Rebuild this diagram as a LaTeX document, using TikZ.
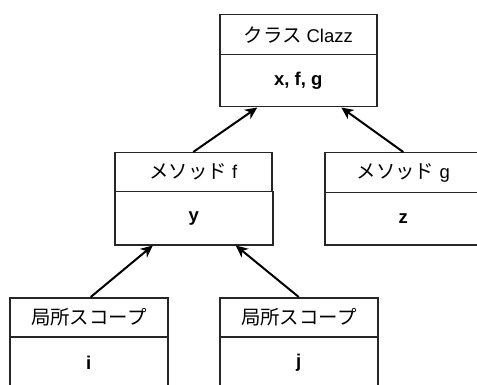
\documentclass[tikz,border=0pt]{standalone}
\usepackage{fontspec}
\setmainfont{Liberation Sans}
\newfontfamily\jp[Scale=1.05]{Noto Sans CJK JP}
\usetikzlibrary{arrows.meta}
\begin{document}
\begin{tikzpicture}[x=1pt,y=-1pt,
  box/.style={draw=black!85,line width=1.5pt,fill=white,minimum width=157pt,inner sep=0pt,anchor=north west,font=\fontsize{18.5}{20}\selectfont},
  hdr/.style={box,minimum height=40pt},
  bdy/.style={box,minimum height=52pt,font=\fontsize{18.5}{20}\selectfont\bfseries},
  arr/.style={line width=2pt,-{Stealth[length=12pt,width=11pt,inset=3.5pt]}}]
\useasboundingbox (0,0) rectangle (477,385);
% class
\node[hdr] (ch) at (219,14) {{\jp クラス} Clazz};
\node[bdy] (cb) at (219,54) {x, f, g};
% method f
\node[hdr,minimum height=39pt] (fh) at (114,152) {{\jp メソッド} f};
\node[bdy,minimum width=158pt,minimum height=53pt] (fb) at (114,191) {y};
% method g
\node[hdr] (gh) at (324,152) {{\jp メソッド} g};
\node[bdy] (gb) at (324,192) {z};
% local scopes
\node[hdr,minimum width=158pt,minimum height=39pt] (ah) at (9,297) {\jp 局所スコープ};
\node[bdy,minimum width=158pt] (ab) at (9,336) {i};
\node[hdr,minimum width=158pt,minimum height=39pt] (bh) at (219,297) {\jp 局所スコープ};
\node[bdy,minimum width=158pt] (bb) at (219,336) {j};
% arrows
\draw[arr] ([xshift=0pt]fh.north) -- ([xshift=-41pt]cb.south);
\draw[arr] (gh.north) -- ([xshift=43pt]cb.south);
\draw[arr] ([xshift=2pt]ah.north) -- ([xshift=-41pt]fb.south);
\draw[arr] (bh.north) -- ([xshift=42pt]fb.south);
\end{tikzpicture}
\end{document}
